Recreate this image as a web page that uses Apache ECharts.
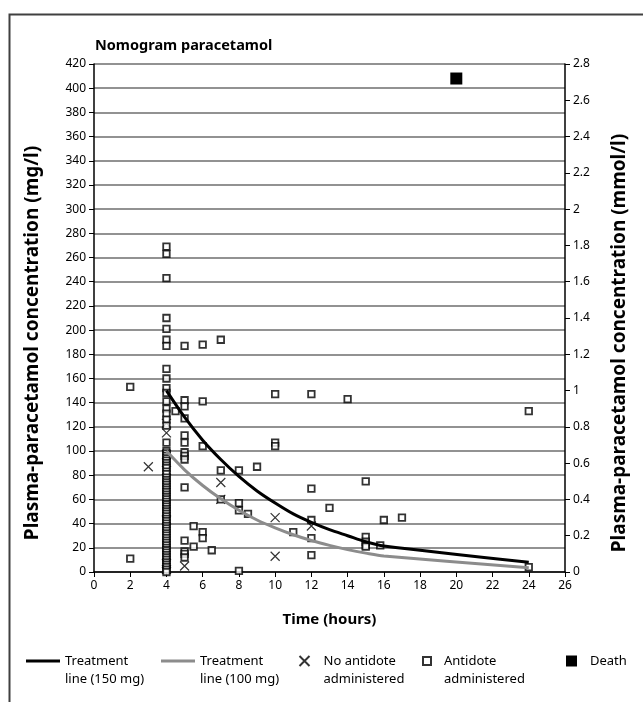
<!DOCTYPE html>
<html>
<head>
<meta charset="utf-8">
<script src="https://cdn.jsdelivr.net/npm/echarts@6/dist/echarts.min.js"></script>
<style>
  html, body { margin: 0; padding: 0; background: #fff; }
  #chart { width: 643px; height: 702px; }
</style>
</head>
<body>
<div id="chart"></div>
<script>
// treatment lines [hours, mg/l]
const line150 = [[4, 150], [5, 128], [6, 109], [7, 93], [8, 79], [9, 67], [10, 57], [11, 48], [12, 41], [13, 35], [14, 30], [15, 25], [16, 21.5], [24, 8]]
const line100 = [[4, 100], [5, 84.5], [6, 71.5], [7, 60.5], [8, 51], [9, 43], [10, 36.5], [11, 30.8], [12, 26], [13, 22], [14, 18.5], [15, 15.6], [16, 13.2], [24, 3.5]]

// patients, no antidote given
const noAntidote = [[3, 87], [4, 123], [4, 115], [4, 97], [4, 84], [4, 43], [4, 7], [4, 2], [5, 5], [7, 74], [7, 60], [10, 45], [10, 13], [12, 38]]

// patients, antidote given
const antidote = [
  [2, 153], [2, 11],
  [4, 269], [4, 263], [4, 243], [4, 210], [4, 201], [4, 192], [4, 187], [4, 168], [4, 160], [4, 152], [4, 148],
  [4, 141], [4, 135], [4, 131], [4, 126], [4, 121], [4, 107],
  [4, 100], [4, 98], [4, 96], [4, 94], [4, 92], [4, 90], [4, 88], [4, 86], [4, 83], [4, 81], [4, 78], [4, 76],
  [4, 74], [4, 72], [4, 70], [4, 68], [4, 66], [4, 64], [4, 62], [4, 60], [4, 58], [4, 56], [4, 54], [4, 52],
  [4, 50], [4, 48], [4, 46], [4, 44], [4, 42], [4, 40], [4, 38], [4, 36], [4, 34], [4, 32], [4, 30], [4, 28],
  [4, 26], [4, 24], [4, 22], [4, 20], [4, 18], [4, 16], [4, 14], [4, 12], [4, 10], [4, 8], [4, 6], [4, 4], [4, 2], [4, 0],
  [4.5, 133],
  [5, 187], [5, 142], [5, 137], [5, 127], [5, 113], [5, 107], [5, 99], [5, 96], [5, 93], [5, 70], [5, 26], [5, 17], [5, 15], [5, 12],
  [5.5, 38], [5.5, 21],
  [6, 188], [6, 141], [6, 104], [6, 33], [6, 28],
  [6.5, 18],
  [7, 192], [7, 84], [7, 60],
  [8, 84], [8, 57], [8, 51], [8, 1],
  [8.5, 48], [9, 87],
  [10, 147], [10, 107], [10, 104],
  [11, 33],
  [12, 147], [12, 69], [12, 43], [12, 28], [12, 14],
  [13, 53], [14, 143],
  [15, 75], [15, 29], [15, 25], [15, 22], [15, 21],
  [15.8, 22], [16, 43], [17, 45],
  [24, 133], [24, 4]
]

const death = [[20, 408]]

const names = ['Treatment\nline (150 mg)', 'Treatment\nline (100 mg)', 'No antidote\nadministered', 'Antidote\nadministered', 'Death']

const font = 'Noto Sans'
const chart = echarts.init(document.getElementById('chart'), null, { renderer: 'canvas' })

// one legend per item so each can be placed like the original
// two-line labels get a blank first line so the icon sits level with the first text line
function legendAt(name, left, top, w, h, icon, padLeft) {
  const twoLines = name.indexOf('\n') >= 0
  return {
    data: [name],
    left: left,
    top: top,
    padding: 0,
    icon: icon,
    itemWidth: w,
    itemHeight: h,
    selectedMode: false,
    formatter: n => (twoLines ? ' \n' : '') + n,
    textStyle: { fontFamily: font, fontSize: 13, color: '#000', lineHeight: 18, padding: [0, 0, 0, padLeft] }
  }
}

const option = {
  animation: false,
  backgroundColor: '#fff',
  title: {
    text: 'Nomogram paracetamol',
    left: 95,
    top: 38,
    padding: 0,
    textStyle: { fontFamily: font, fontSize: 14.5, fontWeight: 'bold', color: '#000' }
  },
  graphic: [{
    type: 'rect',
    left: 7,
    top: 12,
    shape: { width: 650, height: 700 },
    style: { fill: 'none', stroke: '#404040', lineWidth: 2 }
  }],
  legend: [
    legendAt(names[0], 26, 634, 34, 3, 'rect', 0),
    legendAt(names[1], 161, 634, 34, 3, 'rect', 0),
    legendAt(names[2], 297, 634, 10, 10, undefined, 9),
    legendAt(names[3], 422, 634, 8, 8, undefined, 8),
    legendAt(names[4], 566, 652, 11, 11, undefined, 8)
  ],
  grid: { left: 94, right: 78, top: 64, bottom: 130 },
  xAxis: {
    type: 'value',
    min: 0,
    max: 26,
    interval: 2,
    name: 'Time (hours)',
    nameLocation: 'middle',
    nameGap: 40,
    nameTextStyle: { fontFamily: font, fontSize: 15, fontWeight: 'bold', color: '#000' },
    axisLine: { lineStyle: { color: '#000', width: 1.5 } },
    axisTick: { show: true, length: 5, lineStyle: { color: '#000' } },
    axisLabel: { fontFamily: font, fontSize: 12, color: '#000', margin: 8 },
    splitLine: { show: false }
  },
  yAxis: [
    {
      type: 'value',
      min: 0,
      max: 420,
      interval: 20,
      name: 'Plasma-paracetamol concentration (mg/l)',
      nameLocation: 'middle',
      nameGap: 52,
      nameTextStyle: { fontFamily: font, fontSize: 19, fontWeight: 'bold', color: '#000', padding: [0, 50, 0, 0] },
      axisLine: { show: true, lineStyle: { color: '#000', width: 1.5 } },
      axisTick: { show: true, length: 5, lineStyle: { color: '#000' } },
      axisLabel: { fontFamily: font, fontSize: 12, color: '#000', margin: 8 },
      splitLine: { show: true, lineStyle: { color: '#6e6e6e', width: 1.5 } }
    },
    {
      type: 'value',
      position: 'right',
      min: 0,
      max: 2.8,
      interval: 0.2,
      name: 'Plasma-paracetamol concentration (mmol/l)',
      nameLocation: 'middle',
      nameGap: 45,
      nameRotate: 90,
      nameTextStyle: { fontFamily: font, fontSize: 19, fontWeight: 'bold', color: '#000', padding: [0, 50, 0, 0] },
      axisLine: { show: true, lineStyle: { color: '#000', width: 1.5 } },
      axisTick: { show: true, length: 5, lineStyle: { color: '#000' } },
      axisLabel: { fontFamily: font, fontSize: 12, color: '#000', margin: 8 },
      splitLine: { show: false }
    }
  ],
  series: [
    {
      name: names[0],
      type: 'line',
      data: line150,
      symbol: 'none',
      smooth: 0.3,
      z: 4,
      lineStyle: { color: '#000', width: 3 },
      itemStyle: { color: '#000' }
    },
    {
      name: names[1],
      type: 'line',
      data: line100,
      symbol: 'none',
      smooth: 0.3,
      z: 4,
      lineStyle: { color: '#8c8c8c', width: 3 },
      itemStyle: { color: '#8c8c8c' }
    },
    {
      name: names[2],
      type: 'scatter',
      data: noAntidote,
      symbol: 'path://M0,0L10,10M10,0L0,10',
      symbolSize: 9,
      z: 3,
      itemStyle: { color: 'none', borderColor: '#000', borderWidth: 1.2 }
    },
    {
      name: names[3],
      type: 'scatter',
      data: antidote,
      symbol: 'rect',
      symbolSize: 6.5,
      z: 3,
      itemStyle: { color: '#fff', borderColor: '#000', borderWidth: 1.8 }
    },
    {
      name: names[4],
      type: 'scatter',
      data: death,
      symbol: 'rect',
      symbolSize: 12,
      z: 3,
      itemStyle: { color: '#000', opacity: 1 }
    }
  ]
}

chart.setOption(option)
</script>
</body>
</html>
